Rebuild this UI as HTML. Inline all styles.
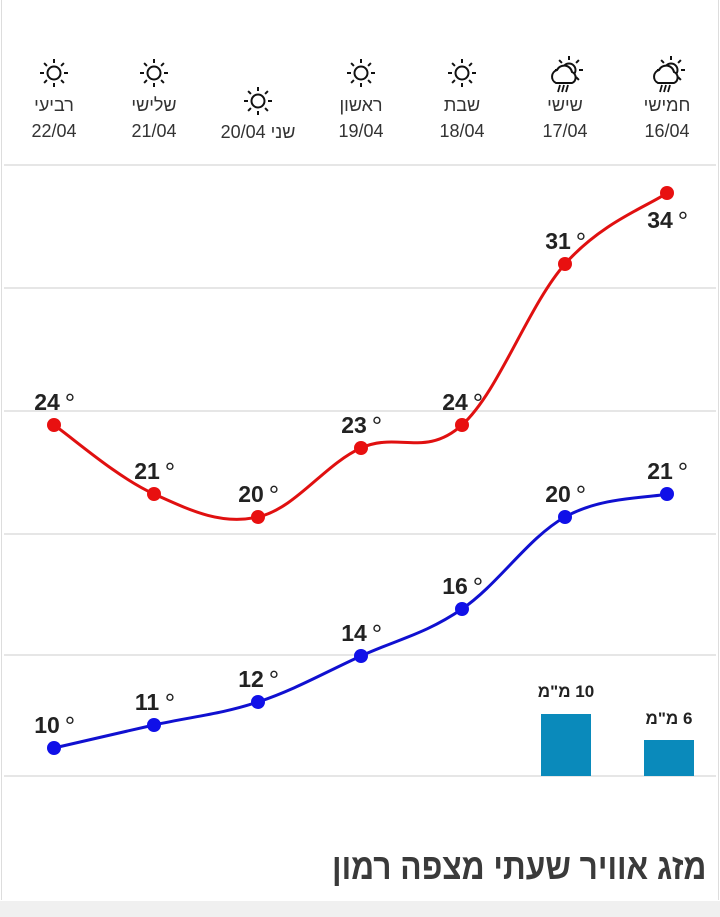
<!DOCTYPE html>
<html><head><meta charset="utf-8"><style>
body{margin:0;width:720px;height:917px;background:#fff;overflow:hidden;font-family:"Liberation Sans","Noto Sans CJK SC",sans-serif;position:relative}
.bl{position:absolute;left:1px;top:0;width:1px;height:900px;background:#ddd}
.br{position:absolute;right:1px;top:0;width:1px;height:900px;background:#ddd}
.day{position:absolute;width:100px;text-align:center;color:#333;font-size:18px;line-height:26px}
.ttl{position:absolute;right:14px;top:846px;font-size:36px;font-weight:bold;color:#3a3a3a;direction:rtl;transform:scaleX(0.88);transform-origin:right top;white-space:nowrap}
.foot{position:absolute;left:0;top:901px;width:720px;height:16px;background:#f0f0f0}
</style></head><body>
<div class="bl"></div><div class="br"></div>
<div class="day" style="left:617px;top:92px">חמישי<br>16/04</div>
<div class="day" style="left:515px;top:92px">שישי<br>17/04</div>
<div class="day" style="left:412px;top:92px">שבת<br>18/04</div>
<div class="day" style="left:311px;top:92px">ראשון<br>19/04</div>
<div class="day" style="left:208px;top:119px">20/04 שני</div>
<div class="day" style="left:104px;top:92px">שלישי<br>21/04</div>
<div class="day" style="left:4px;top:92px">רביעי<br>22/04</div>
<svg id="s" width="720" height="917" style="position:absolute;left:0;top:0"></svg>
<div class="ttl">מזג אוויר שעתי מצפה רמון</div>
<div class="foot"></div>
<script>
const xs=[54,154,258,361,462,565,667];
const red=[425,494,517,448,425,264,193],rv=[24,21,20,23,24,31,34];
const blue=[748,725,702,656,609,517,494],bv=[10,11,12,14,16,20,21];
let h='';
[165,288,411,534,655,776].forEach(y=>h+=`<line x1="4" x2="716" y1="${y}" y2="${y}" stroke="#e6e6e6" stroke-width="2"/>`);
h+=`<rect x="541" y="714" width="50" height="62" fill="#0a8abb"/><rect x="644" y="740" width="50" height="36" fill="#0a8abb"/>`;
h+=`<text x="566" y="697" text-anchor="middle" font-size="17" font-weight="bold" fill="#222" direction="rtl">10 מ"מ</text>`;
h+=`<text x="669" y="724" text-anchor="middle" font-size="17" font-weight="bold" fill="#222" direction="rtl">6 מ"מ</text>`;
function path(ys){let d=`M${xs[0]},${ys[0]}`;const t=0.18;
for(let i=0;i<xs.length-1;i++){const p0=[xs[Math.max(i-1,0)],ys[Math.max(i-1,0)]],p1=[xs[i],ys[i]],p2=[xs[i+1],ys[i+1]],p3=[xs[Math.min(i+2,6)],ys[Math.min(i+2,6)]];
const c1=[p1[0]+(p2[0]-p0[0])*t,p1[1]+(p2[1]-p0[1])*t],c2=[p2[0]-(p3[0]-p1[0])*t,p2[1]-(p3[1]-p1[1])*t];
d+=` C${c1[0]},${c1[1]} ${c2[0]},${c2[1]} ${p2[0]},${p2[1]}`;}return d;}
h+=`<path d="${path(red)}" fill="none" stroke="#e01010" stroke-width="3"/>`;
h+=`<path d="${path(blue)}" fill="none" stroke="#1010d0" stroke-width="3"/>`;
function lab(x,y,v){return `<text x="${x-7}" y="${y}" text-anchor="middle" font-size="23" font-weight="bold" fill="#222" direction="ltr">${v}</text><text x="${x+16}" y="${y+2}" text-anchor="middle" font-size="26" fill="#222">°</text>`;}
xs.forEach((x,i)=>{h+=`<circle cx="${x}" cy="${red[i]}" r="7" fill="#e81010"/><circle cx="${x}" cy="${blue[i]}" r="7" fill="#1010e8"/>`;
h+=lab(x,i==6?red[i]+35:red[i]-15,rv[i]);
h+=lab(x,blue[i]-15,bv[i]);});
function sun(cx,cy){let s=`<circle cx="${cx}" cy="${cy}" r="6.5" fill="none" stroke="#111" stroke-width="2"/>`;
for(let k=0;k<8;k++){const a=k*Math.PI/4;s+=`<line x1="${cx+Math.cos(a)*10}" y1="${cy+Math.sin(a)*10}" x2="${cx+Math.cos(a)*14}" y2="${cy+Math.sin(a)*14}" stroke="#111" stroke-width="2"/>`;}return s;}
[[54,73],[154,73],[258,101],[361,73],[462,73]].forEach(p=>h+=sun(p[0],p[1]));
function rain(cx,cy){return sun(cx+6,cy-4)+`<path d="M${cx-7},${cy+9} a7,7 0 0 1 1,-13 a8,8 0 0 1 15,2 a6,6 0 0 1 0,11 z" fill="#fff" stroke="#111" stroke-width="2"/><line x1="${cx-3}" y1="${cy+11}" x2="${cx-5}" y2="${cy+18}" stroke="#111" stroke-width="1.8"/><line x1="${cx+1}" y1="${cy+11}" x2="${cx-1}" y2="${cy+18}" stroke="#111" stroke-width="1.8"/><line x1="${cx+5}" y1="${cy+11}" x2="${cx+3}" y2="${cy+18}" stroke="#111" stroke-width="1.8"/>`;}
h+=rain(563,74)+rain(665,74);
document.getElementById('s').innerHTML=h;
</script>
</body></html>
